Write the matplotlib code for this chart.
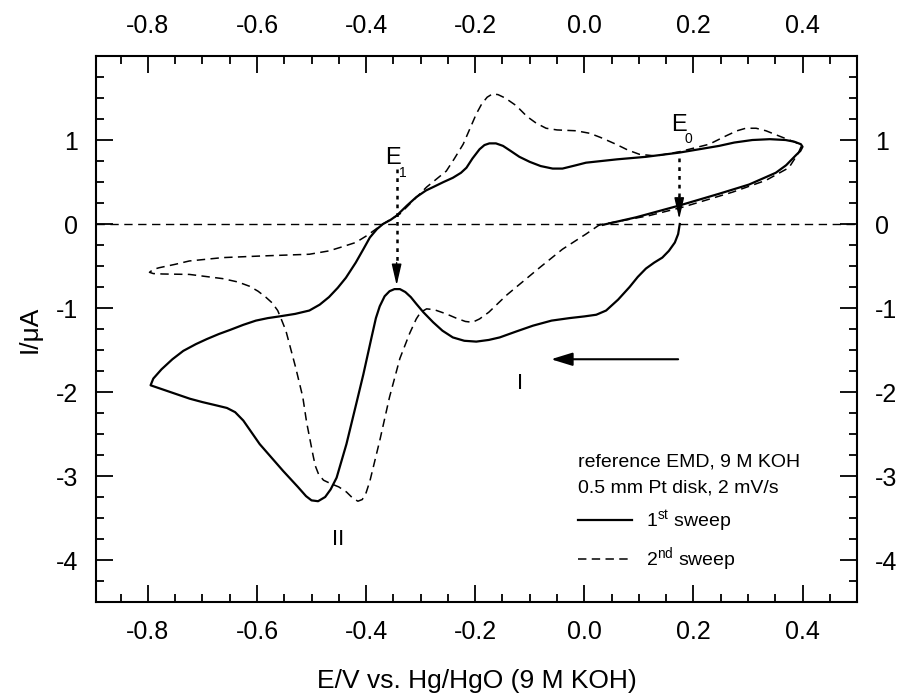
import matplotlib
matplotlib.use("Agg")
import matplotlib.pyplot as plt
from matplotlib.ticker import MultipleLocator, FixedLocator, FormatStrFormatter

plt.rcParams["font.family"] = ["Liberation Sans", "DejaVu Sans"]
plt.rcParams["mathtext.fontset"] = "custom"
plt.rcParams["mathtext.rm"] = "Liberation Sans"
plt.rcParams["mathtext.it"] = "Liberation Sans"
plt.rcParams["axes.unicode_minus"] = False

# 1st sweep (solid), E/V vs I/uA
sweep1_E = [0.175, 0.172, 0.166, 0.155, 0.143, 0.128, 0.113, 0.098, 0.083, 0.062,
            0.040, 0.022, 0.000, -0.027, -0.060, -0.094, -0.125, -0.155, -0.175, -0.198,
            -0.220, -0.241, -0.260, -0.277, -0.295, -0.308, -0.318, -0.328, -0.338, -0.348,
            -0.357, -0.366, -0.375, -0.382, -0.390, -0.405, -0.418, -0.436, -0.454, -0.465,
            -0.475, -0.488, -0.500, -0.510, -0.525, -0.552, -0.595, -0.625, -0.640, -0.655,
            -0.674, -0.700, -0.723, -0.759, -0.795, -0.790, -0.775, -0.755, -0.735, -0.712,
            -0.692, -0.670, -0.649, -0.625, -0.602, -0.580, -0.559, -0.530, -0.504, -0.485,
            -0.468, -0.452, -0.437, -0.419, -0.405, -0.393, -0.380, -0.369, -0.355, -0.344,
            -0.325, -0.308, -0.290, -0.277, -0.258, -0.241, -0.226, -0.216, -0.205, -0.192,
            -0.183, -0.174, -0.162, -0.149, -0.135, -0.119, -0.100, -0.080, -0.058, -0.040,
            -0.015, 0.003, 0.060, 0.113, 0.174, 0.247, 0.275, 0.308, 0.340, 0.369,
            0.385, 0.397, 0.400, 0.396, 0.388, 0.370, 0.351, 0.302, 0.247, 0.174,
            0.095, 0.034]
sweep1_I = [0.00, -0.12, -0.22, -0.32, -0.40, -0.46, -0.53, -0.63, -0.75, -0.90,
            -1.03, -1.08, -1.10, -1.12, -1.15, -1.21, -1.28, -1.35, -1.38, -1.40,
            -1.39, -1.35, -1.27, -1.17, -1.05, -0.95, -0.87, -0.81, -0.775, -0.775,
            -0.80, -0.86, -0.98, -1.12, -1.35, -1.79, -2.14, -2.62, -3.02, -3.16,
            -3.25, -3.30, -3.29, -3.24, -3.13, -2.94, -2.62, -2.34, -2.24, -2.19,
            -2.16, -2.12, -2.08, -2.00, -1.92, -1.84, -1.73, -1.61, -1.51, -1.43,
            -1.37, -1.31, -1.26, -1.20, -1.15, -1.12, -1.10, -1.07, -1.03, -0.96,
            -0.87, -0.76, -0.64, -0.46, -0.30, -0.16, -0.06, 0.00, 0.05, 0.10,
            0.22, 0.32, 0.40, 0.44, 0.50, 0.55, 0.61, 0.67, 0.78, 0.89,
            0.94, 0.96, 0.96, 0.93, 0.87, 0.80, 0.74, 0.69, 0.66, 0.66,
            0.70, 0.73, 0.77, 0.80, 0.85, 0.93, 0.97, 1.00, 1.01, 1.00,
            0.98, 0.95, 0.92, 0.87, 0.82, 0.70, 0.61, 0.47, 0.36, 0.22,
            0.08, -0.01]

# 2nd sweep (dashed)
sweep2_E = [0.030, 0.003, -0.040, -0.082, -0.119, -0.143, -0.175, -0.192, -0.205, -0.218,
            -0.235, -0.253, -0.275, -0.289, -0.300, -0.308, -0.320, -0.338, -0.357, -0.375,
            -0.393, -0.400, -0.407, -0.415, -0.425, -0.436, -0.450, -0.465, -0.478, -0.487,
            -0.493, -0.497, -0.509, -0.516, -0.529, -0.547, -0.555, -0.562, -0.572, -0.584,
            -0.598, -0.614, -0.635, -0.663, -0.724, -0.773, -0.790, -0.797, -0.790, -0.779,
            -0.750, -0.724, -0.663, -0.590, -0.504, -0.468, -0.448, -0.419, -0.399, -0.369,
            -0.338, -0.289, -0.253, -0.238, -0.222, -0.210, -0.198, -0.188, -0.178, -0.168,
            -0.158, -0.145, -0.125, -0.105, -0.088, -0.070, -0.050, -0.015, 0.010, 0.030,
            0.058, 0.080, 0.101, 0.131, 0.174, 0.229, 0.260, 0.280, 0.296, 0.315,
            0.333, 0.360, 0.388, 0.398, 0.392, 0.375, 0.333, 0.272, 0.180, 0.119,
            0.028]
sweep2_I = [0.00, -0.12, -0.30, -0.52, -0.72, -0.85, -1.05, -1.13, -1.17, -1.16,
            -1.12, -1.07, -1.02, -1.01, -1.05, -1.13, -1.30, -1.60, -2.06, -2.58,
            -3.06, -3.20, -3.28, -3.30, -3.26, -3.19, -3.13, -3.09, -3.05, -2.98,
            -2.88, -2.76, -2.36, -2.06, -1.71, -1.27, -1.14, -1.03, -0.94, -0.87,
            -0.80, -0.74, -0.69, -0.65, -0.60, -0.595, -0.59, -0.575, -0.54, -0.52,
            -0.48, -0.44, -0.40, -0.38, -0.36, -0.32, -0.28, -0.22, -0.14, 0.00,
            0.12, 0.44, 0.63, 0.78, 0.95, 1.13, 1.31, 1.43, 1.51, 1.55,
            1.54, 1.50, 1.41, 1.28, 1.20, 1.14, 1.12, 1.11, 1.08, 1.03,
            0.95, 0.88, 0.83, 0.81, 0.86, 0.95, 1.05, 1.11, 1.14, 1.14,
            1.11, 1.04, 0.97, 0.93, 0.84, 0.67, 0.52, 0.38, 0.20, 0.10,
            -0.01]

y_ticks = [-4, -3, -2, -1, 0, 1]

# potential markers E1, E0: (E, I at top of arrow, I at tip)
e1_arrow = (-0.344, 0.66, -0.73)
e0_arrow = (0.174, 0.79, 0.06)
# sweep direction arrow: (E tail, E head, I)
dir_arrow = (0.172, -0.061, -1.61)

fig = plt.figure(figsize=(9, 6.95), dpi=100)
ax = fig.add_axes([0.1067, 0.1338, 0.8456, 0.7856])

ax.axhline(0, color="black", lw=1.0, linestyle=(0, (6, 4)))
ax.plot(sweep1_E, sweep1_I, color="black", lw=1.6, solid_joinstyle="round",
        label="1$^{\\mathrm{st}}$ sweep")
ax.plot(sweep2_E, sweep2_I, color="black", lw=1.1, linestyle=(0, (5.5, 3.5)),
        label="2$^{\\mathrm{nd}}$ sweep")

# dotted arrows at E1 and E0
for x, top, tip in (e1_arrow, e0_arrow):
    ax.plot([x, x], [top, tip + 0.2], color="black", lw=1.8, linestyle=(0, (1.5, 2)))
    ax.annotate("", xy=(x, tip), xytext=(x, tip + 0.27),
                arrowprops=dict(arrowstyle="-|>,head_length=1.3,head_width=0.3",
                                color="black", lw=1.0, shrinkA=0, shrinkB=0))

ax.annotate("", xy=(dir_arrow[1], dir_arrow[2]), xytext=(dir_arrow[0], dir_arrow[2]),
            arrowprops=dict(arrowstyle="-|>,head_length=1.3,head_width=0.4",
                            color="black", lw=1.5, shrinkA=0, shrinkB=0))

ax.text(-0.351, 0.79, "E", fontsize=17, ha="center", va="center")
ax.text(-0.333, 0.61, "1", fontsize=10, ha="center", va="center")
ax.text(0.173, 1.18, "E", fontsize=17, ha="center", va="center")
ax.text(0.191, 1.01, "0", fontsize=10, ha="center", va="center")
ax.text(-0.117, -1.90, "I", fontsize=16, ha="center", va="center")
ax.text(-0.452, -3.76, "II", fontsize=16, ha="center", va="center")

leg = ax.legend(loc="upper left", bbox_to_anchor=(0.62, 0.29), frameon=False,
                title="reference EMD, 9 M KOH\n0.5 mm Pt disk, 2 mV/s",
                fontsize=14, title_fontsize=14, alignment="left",
                handlelength=2.8, handletextpad=0.7, borderpad=0, labelspacing=0.6)
leg.get_title().set_linespacing(1.7)

ax.set_xlim(-0.895, 0.5)
ax.set_ylim(-4.5, 2.0)
ax.xaxis.set_major_locator(MultipleLocator(0.2))
ax.xaxis.set_minor_locator(MultipleLocator(0.05))
ax.xaxis.set_major_formatter(FormatStrFormatter("%.1f"))
ax.yaxis.set_major_locator(FixedLocator(y_ticks))
ax.yaxis.set_minor_locator(MultipleLocator(0.25))
ax.tick_params(which="both", direction="in", top=True, right=True,
               labeltop=True, labelright=True, labelsize=18, pad=13, width=1.3)
ax.tick_params(which="major", length=12)
ax.tick_params(which="minor", length=6)
for s in ax.spines.values():
    s.set_linewidth(1.5)

ax.set_xlabel("E/V vs. Hg/HgO (9 M KOH)", fontsize=19, labelpad=18)
ax.set_ylabel("I/\u03bcA", fontsize=19, labelpad=10)

fig.savefig("out.png", dpi=100)
